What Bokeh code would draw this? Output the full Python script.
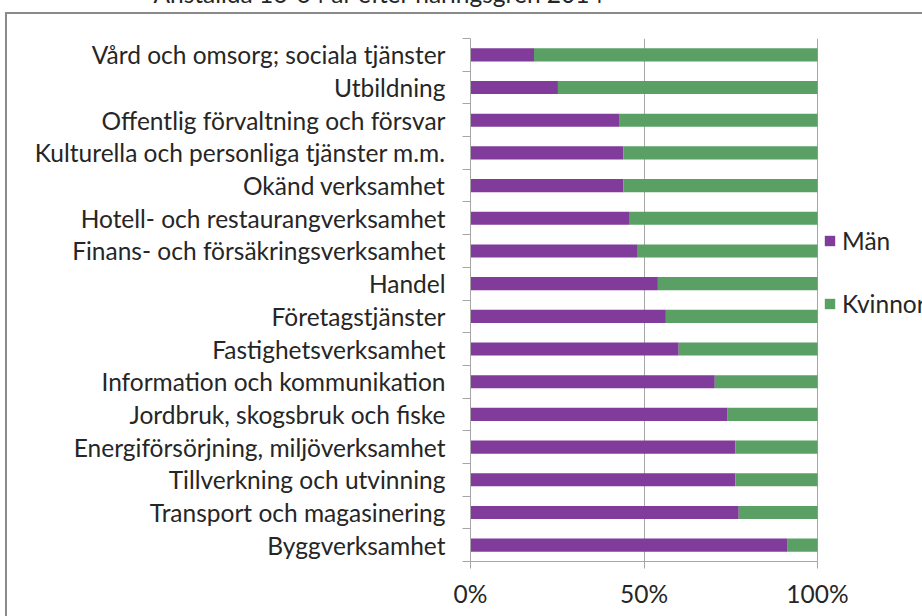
from bokeh.plotting import figure
from bokeh.models import (Range1d, FixedTicker, PrintfTickFormatter, Legend, LegendItem,
                          ColumnDataSource)
from bokeh.embed import file_html
from bokeh.resources import INLINE

title_text = "Anställda 16-64 år efter näringsgren 2014"
categories = [
    "Vård och omsorg; sociala tjänster",
    "Utbildning",
    "Offentlig förvaltning och försvar",
    "Kulturella och personliga tjänster m.m.",
    "Okänd verksamhet",
    "Hotell- och restaurangverksamhet",
    "Finans- och försäkringsverksamhet",
    "Handel",
    "Företagstjänster",
    "Fastighetsverksamhet",
    "Information och kommunikation",
    "Jordbruk, skogsbruk och fiske",
    "Energiförsörjning, miljöverksamhet",
    "Tillverkning och utvinning",
    "Transport och magasinering",
    "Byggverksamhet",
]
man = [18.3, 25.2, 43.0, 44.1, 44.1, 45.9, 48.2, 54.0, 56.3, 60.0, 70.4, 74.1, 76.3, 76.3, 77.3, 91.4]
kvinnor = [81.7, 74.8, 57.0, 55.9, 55.9, 54.1, 51.8, 46.0, 43.7, 40.0, 29.6, 25.9, 23.7, 23.7, 22.7, 8.6]
series_names = ["Män", "Kvinnor"]
x_ticks = [0, 50, 100]

FONT = "Lato"
FS = "24.5px"
TEXT = "#262626"
GRID = "#a6a6a6"
BORDER = "#8a8a8a"
PURPLE = "#803B9B"
GREEN = "#5AA064"

n = len(categories)
pos = [i + 0.5 for i in range(n)]
src = ColumnDataSource(dict(y=pos, man=man, kvinnor=kvinnor))

# layout (pixels)
TOP = 100           # canvas y of plot-area top
LEFT = 465          # canvas x of plot-area left
PLOT_W = 347        # width of 0..100 %
PLOT_H = 523
SHIFT = TOP - 38    # canvas starts this far above the page top
W = 917
H = 616 + SHIFT
frame_w = W - LEFT
x_end = 100 * frame_w / PLOT_W   # frame continues right of 100 % to hold the legend

p = figure(width=W, height=H, x_range=Range1d(0, x_end), y_range=Range1d(n, 0),
           output_backend="svg", toolbar_location=None, title=title_text,
           min_border_left=LEFT, min_border_right=0, min_border_top=TOP,
           min_border_bottom=H - TOP - PLOT_H)
p.margin = (-SHIFT, 0, 0, 5)
by = 12 + SHIFT
p.styles = {
    "background-color": "white",
    "box-shadow": f"inset 0px {by}px 0px 0px white, inset 2px {by + 2}px 0px 0px {BORDER}",
}
p.outline_line_color = None
p.background_fill_color = None
p.border_fill_color = None

p.title.align = "left"
p.title.offset = -317
p.title.standoff = 62
p.title.text_font = FONT
p.title.text_font_size = FS
p.title.text_font_style = "normal"
p.title.text_color = TEXT

rs = p.hbar_stack(["man", "kvinnor"], y="y", height=0.4, color=[PURPLE, GREEN],
                  line_color=None, source=src)

xa = p.xaxis[0]
xa.ticker = FixedTicker(ticks=x_ticks)
xa.bounds = (0, 100)
xa.formatter = PrintfTickFormatter(format="%d%%")
xa.axis_line_color = GRID
xa.major_tick_line_color = GRID
xa.major_tick_out = 7
xa.major_tick_in = 0
xa.minor_tick_line_color = None
xa.major_label_text_font = FONT
xa.major_label_text_font_size = FS
xa.major_label_text_color = TEXT
xa.major_label_standoff = 10

ya = p.yaxis[0]
ya.ticker = FixedTicker(ticks=pos, minor_ticks=list(range(n + 1)))
ya.major_label_overrides = {pp: c for pp, c in zip(pos, categories)}
ya.axis_line_color = GRID
ya.major_tick_line_color = None
ya.minor_tick_line_color = GRID
ya.minor_tick_out = 8
ya.minor_tick_in = 0
ya.major_label_text_font = FONT
ya.major_label_text_font_size = FS
ya.major_label_text_color = TEXT
ya.major_label_standoff = 17

p.xgrid.ticker = FixedTicker(ticks=x_ticks)
p.xgrid.grid_line_color = GRID
p.ygrid.grid_line_color = None

legend = Legend(items=[LegendItem(label=series_names[0], renderers=[rs[0]]),
                       LegendItem(label=series_names[1], renderers=[rs[1]])],
                location=(353, 243), orientation="vertical",
                glyph_width=13, glyph_height=13, label_standoff=6, spacing=33,
                padding=0, margin=0, border_line_color=None, background_fill_alpha=0,
                label_text_font=FONT, label_text_font_size=FS, label_text_color=TEXT,
                label_height=30)
p.add_layout(legend)

open("out.html", "w").write(file_html(p, INLINE))
